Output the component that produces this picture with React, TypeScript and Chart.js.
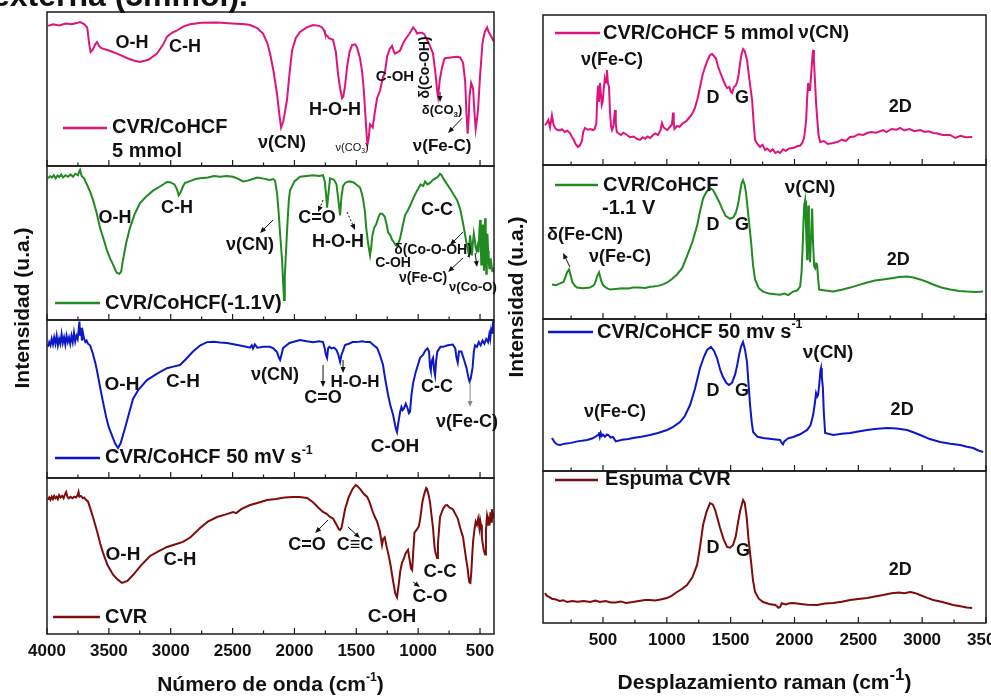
import React, { useEffect, useRef } from 'react';
import { Chart, registerables } from 'chart.js';

Chart.register(...registerables);

const FONT = "'Liberation Sans', Arial, Helvetica, sans-serif";
const INK = '#111111';

// ---------- FTIR spectra: [wavenumber (cm-1), transmittance in panel units 0-100] ----------
const ftirCoHCF5mmol: [number, number][] = [
  [3992, 91], [3950, 92], [3900, 91.3], [3850, 92.5], [3800, 92], [3760, 92.8], [3733, 93.5], [3700, 92.2],
  [3675, 90], [3660, 80], [3648, 74], [3630, 75.5], [3610, 79], [3596, 80.5], [3580, 78], [3560, 76.5],
  [3500, 75], [3434, 73], [3350, 70], [3300, 68.5], [3248, 67.5], [3180, 69], [3111, 73], [3060, 79],
  [3030, 84], [2990, 86.5], [2949, 88], [2900, 90.5], [2844, 92], [2750, 93], [2626, 93.2], [2500, 92.5],
  [2400, 92], [2359, 91.5], [2300, 89.5], [2254, 86], [2220, 80], [2197, 73], [2170, 62], [2141, 47],
  [2120, 32], [2108, 25], [2090, 29], [2075, 36], [2060, 43], [2040, 60], [2019, 75], [1990, 83],
  [1955, 87], [1900, 90], [1850, 91.5], [1800, 91], [1777, 90], [1760, 88], [1753, 86], [1720, 83],
  [1688, 82], [1665, 74], [1648, 60], [1630, 50], [1615, 44], [1605, 45], [1591, 52], [1575, 64],
  [1555, 74], [1534, 78.5], [1510, 79], [1494, 77], [1470, 70], [1454, 62], [1440, 50], [1429, 36],
  [1418, 22], [1410, 14], [1400, 18], [1389, 27], [1378, 26], [1368, 25], [1350, 35], [1332, 44],
  [1308, 49], [1292, 55], [1284, 58], [1270, 60], [1251, 71], [1230, 76], [1211, 78], [1195, 74],
  [1187, 73], [1165, 74], [1146, 75], [1125, 79], [1106, 82], [1070, 86], [1041, 90], [1020, 88],
  [1009, 86], [990, 86.5], [968, 86.5], [950, 85.5], [928, 82], [905, 78], [880, 73], [860, 60],
  [845, 48], [839, 45], [825, 56], [807, 64], [790, 69], [783, 70], [740, 70.5], [686, 71],
  [661, 70.5], [637, 67], [620, 55], [610, 35], [600, 21], [592, 30], [585, 45], [572, 54],
  [563, 52], [556, 50], [545, 35], [535, 24], [525, 30], [515, 38], [500, 58], [480, 80],
  [462, 87], [443, 90], [430, 87], [415, 85], [402, 83], [390, 81],
];

const ftirCoHCFm11V: [number, number][] = [
  [3992, 92], [3975, 93.5], [3960, 92.5], [3945, 94], [3930, 92], [3915, 93.8], [3900, 92.8], [3885, 94.5],
  [3870, 92.5], [3850, 94], [3830, 93], [3810, 94.5], [3790, 93], [3770, 95], [3750, 94], [3740, 96.5],
  [3733, 97.5], [3720, 93.5], [3700, 92], [3690, 90], [3677, 88], [3650, 83], [3628, 78], [3600, 70],
  [3572, 60], [3540, 52], [3515, 45], [3490, 40], [3466, 36], [3445, 32], [3434, 30.5], [3415, 30],
  [3400, 31.5], [3386, 39], [3360, 50], [3329, 60], [3290, 69], [3248, 76], [3200, 80], [3143, 84],
  [3080, 87], [3030, 89.6], [3006, 89.5], [2970, 88], [2950, 85], [2935, 81], [2920, 83], [2900, 87],
  [2884, 89], [2850, 90], [2800, 91.5], [2763, 92], [2700, 92.5], [2650, 93.5], [2600, 93], [2550, 93.5],
  [2496, 93], [2450, 91.5], [2416, 90], [2380, 90.5], [2350, 91.2], [2300, 92.5], [2250, 91.8], [2200, 91],
  [2170, 91.5], [2157, 90.5], [2140, 82], [2128, 70], [2115, 55], [2100, 39], [2090, 22], [2084, 13],
  [2078, 28], [2068, 45], [2055, 65], [2045, 78], [2036, 84], [2000, 90], [1955, 93], [1900, 93.5],
  [1850, 94], [1800, 93.5], [1769, 94], [1755, 90], [1745, 82], [1736, 73], [1728, 80], [1712, 92],
  [1695, 91.5], [1680, 91], [1660, 88], [1645, 78], [1631, 68], [1620, 80], [1607, 87], [1590, 89],
  [1560, 90], [1526, 89.5], [1500, 88], [1470, 86], [1455, 82], [1446, 79], [1430, 70], [1420, 60],
  [1405, 50], [1389, 42], [1380, 47], [1370, 55], [1355, 60], [1340, 62], [1320, 67], [1308, 69],
  [1290, 69], [1270, 67], [1255, 62], [1243, 57], [1225, 55], [1210, 52], [1200, 51], [1185, 49],
  [1171, 48], [1160, 50], [1146, 53], [1125, 61], [1106, 68], [1085, 71], [1066, 74], [1040, 79],
  [1009, 84], [980, 88], [960, 87], [944, 90], [925, 88], [904, 89], [880, 91], [860, 92],
  [840, 93], [823, 95], [810, 94], [790, 91], [765, 88], [740, 85], [710, 81], [686, 78],
  [660, 72], [640, 64], [620, 55], [605, 48], [595, 44], [590, 43], [585, 50], [580, 55],
  [572, 48], [565, 42], [558, 50], [550, 56], [543, 52], [535, 47], [528, 45], [520, 48],
  [512, 44], [505, 58], [499, 65], [494, 50], [490, 36], [485, 45], [480, 62], [476, 55],
  [472, 40], [468, 32], [464, 48], [459, 66], [454, 55], [450, 30], [445, 42], [440, 56],
  [435, 45], [430, 38], [424, 33], [418, 40], [413, 33], [408, 36], [402, 32], [396, 34], [390, 31],
];

const ftirCoHCF50mV: [number, number][] = [
  [3992, 83], [3982, 86], [3972, 84], [3962, 88], [3952, 84.5], [3942, 89], [3932, 85], [3922, 90],
  [3912, 84], [3902, 88], [3892, 85], [3882, 91], [3872, 85.5], [3862, 89], [3852, 84.5], [3842, 90],
  [3832, 86], [3822, 89], [3812, 85], [3802, 90], [3792, 86], [3782, 92], [3772, 86.5], [3762, 90],
  [3752, 88], [3744, 94], [3738, 99], [3732, 90], [3725, 95], [3718, 87], [3710, 92], [3700, 88],
  [3690, 86], [3680, 87], [3669, 85], [3652, 84], [3630, 79], [3610, 73], [3596, 68], [3570, 57],
  [3547, 48], [3520, 38], [3500, 32], [3475, 27], [3450, 22], [3426, 19], [3405, 22], [3390, 26],
  [3369, 31.6], [3340, 40], [3305, 50], [3260, 56], [3192, 62], [3110, 66], [3030, 69.5], [2980, 70.5],
  [2925, 71.5], [2880, 75], [2820, 80], [2760, 84], [2707, 86], [2650, 86.2], [2600, 85.8], [2545, 85.5],
  [2450, 84], [2400, 83.2], [2359, 82.5], [2345, 84], [2335, 82], [2320, 84.5], [2300, 82.5], [2250, 83],
  [2200, 83], [2170, 82], [2141, 79.7], [2125, 76], [2116, 74.7], [2105, 78], [2092, 82.3], [2040, 85.5],
  [1955, 87.3], [1900, 86.5], [1850, 86], [1800, 86.5], [1769, 86], [1755, 82], [1746, 78], [1736, 76],
  [1728, 82], [1718, 83], [1700, 82], [1680, 82.5], [1660, 81], [1645, 78], [1631, 73.5], [1620, 78],
  [1610, 80], [1591, 84.2], [1560, 85], [1530, 86], [1500, 86], [1450, 86.5], [1420, 86], [1389, 86],
  [1360, 84], [1332, 82.3], [1310, 78], [1284, 71.5], [1265, 62], [1243, 52.5], [1225, 46], [1210, 42],
  [1203, 40], [1190, 35], [1180, 31], [1171, 29], [1160, 35], [1146, 41.8], [1135, 45], [1125, 43],
  [1115, 44], [1100, 47], [1085, 44], [1075, 41], [1066, 41.8], [1055, 52], [1041, 60], [1020, 67],
  [1000, 72], [985, 76], [960, 78], [940, 81], [925, 82], [912, 80], [904, 70], [898, 68],
  [890, 74], [880, 76], [870, 68], [863, 65], [855, 74], [845, 80], [820, 83], [799, 83],
  [760, 84], [720, 84.5], [700, 82], [690, 76], [680, 73], [670, 80], [650, 80], [630, 75],
  [610, 70], [595, 64], [585, 61], [575, 63], [560, 70], [550, 80], [540, 84], [525, 83],
  [510, 86], [495, 84], [480, 87], [465, 85], [450, 88], [435, 86], [425, 91], [418, 88],
  [410, 94], [402, 92], [396, 98], [390, 99.5],
];

const ftirCVR: [number, number][] = [
  [3992, 86], [3982, 87.5], [3972, 86], [3962, 88], [3952, 86.5], [3942, 88.5], [3932, 87], [3922, 88],
  [3912, 86.5], [3902, 89], [3890, 87.5], [3878, 88.5], [3866, 87], [3855, 89.5], [3845, 91], [3835, 88],
  [3825, 87], [3810, 88], [3795, 87], [3780, 88], [3765, 87.5], [3752, 89], [3745, 91], [3738, 88],
  [3725, 88.5], [3710, 87], [3700, 87.5], [3685, 86], [3669, 85], [3652, 81], [3625, 74], [3596, 66],
  [3570, 58], [3547, 52], [3510, 44], [3466, 38], [3430, 35], [3394, 32.7], [3350, 34], [3305, 37.8],
  [3240, 44], [3167, 50], [3100, 53], [3030, 55.8], [2960, 57.5], [2901, 59], [2840, 62], [2763, 68],
  [2700, 72], [2626, 75], [2560, 76.5], [2496, 78.2], [2470, 77.5], [2430, 80], [2359, 82.7], [2300, 84],
  [2221, 85.9], [2150, 86.5], [2080, 87.5], [2011, 87.8], [1960, 87.8], [1898, 87.2], [1850, 84.5], [1800, 80.5],
  [1769, 78.2], [1740, 77], [1712, 75], [1688, 74], [1660, 70], [1640, 67], [1631, 66.7], [1620, 68],
  [1605, 74], [1591, 80], [1560, 88], [1530, 93], [1505, 95.5], [1494, 95], [1470, 93], [1450, 91],
  [1429, 89], [1413, 88], [1395, 85], [1370, 79], [1350, 75], [1332, 72], [1310, 66], [1292, 57],
  [1282, 61], [1270, 62], [1255, 56], [1243, 52], [1225, 45], [1205, 35], [1185, 26], [1171, 23.5],
  [1160, 30], [1145, 40], [1130, 46], [1122, 47], [1100, 52], [1082, 54], [1070, 48], [1058, 42],
  [1049, 41], [1040, 52], [1030, 65], [1010, 67], [995, 69], [985, 73], [965, 85], [950, 90],
  [935, 93.6], [928, 93], [915, 89], [905, 85], [892, 76], [880, 68], [868, 56], [860, 52],
  [852, 50], [847, 48.7], [840, 58], [830, 68], [823, 75], [800, 80], [780, 82.5], [766, 82.7],
  [745, 81], [720, 80], [700, 77], [680, 74], [660, 68], [645, 64], [637, 62], [625, 55],
  [612, 48], [600, 42], [592, 36], [585, 33], [578, 32.7], [570, 40], [562, 52], [555, 60],
  [545, 67], [535, 72], [525, 70], [515, 74], [505, 68], [499, 73], [492, 70], [485, 62],
  [478, 58], [470, 54], [459, 51], [452, 66], [447, 72], [443, 76], [438, 74], [433, 70],
  [428, 75], [422, 70], [416, 78], [410, 72], [404, 80], [398, 74], [392, 78],
];

// ---------- Raman spectra: [Raman shift (cm-1), intensity in panel units 0-100] ----------
const ramanCoHCF5mmol: [number, number][] = [
  [45, 26.7], [60, 28], [72, 30], [85, 25], [100, 33], [112, 27], [124, 24.7], [140, 23.5],
  [163, 23], [180, 23.8], [200, 22], [220, 22.8], [241, 21.3], [255, 19], [270, 17], [285, 14],
  [304, 12], [318, 13], [335, 16], [345, 22], [359, 24.7], [380, 23.5], [400, 24], [422, 23.3],
  [435, 24], [448, 28], [455, 45], [462, 53], [468, 42], [476, 54.7], [483, 48], [490, 40],
  [497, 42], [505, 50], [515, 58], [524, 55], [531, 63.3], [538, 55], [547, 52], [555, 35],
  [563, 26], [571, 23.3], [582, 26], [589, 33], [594, 36.7], [600, 28], [608, 22], [618, 21.3],
  [640, 20], [660, 21.5], [688, 20], [710, 18.5], [740, 19], [765, 17.5], [790, 16.7], [810, 18.5],
  [830, 17.5], [850, 19], [870, 18], [892, 20], [910, 21], [930, 20], [950, 23], [962, 28],
  [975, 25], [990, 24], [1002, 23.3], [1020, 25], [1040, 27], [1049, 35], [1054, 28], [1060, 24],
  [1080, 26], [1100, 25.5], [1127, 28], [1150, 29], [1170, 31], [1190, 33], [1205, 35.3], [1220, 38],
  [1240, 44], [1260, 52], [1280, 60], [1299, 65.3], [1320, 70], [1338, 73.3], [1355, 74], [1370, 72.5],
  [1385, 71], [1400, 66], [1417, 62], [1440, 57], [1460, 53], [1472, 51.3], [1490, 52], [1500, 49],
  [1511, 48], [1525, 52], [1540, 53], [1550, 55.3], [1562, 60], [1574, 68], [1585, 74], [1597, 77.3],
  [1610, 76], [1628, 70], [1645, 58], [1668, 43.3], [1680, 28], [1691, 16.7], [1710, 14], [1730, 12],
  [1750, 13.5], [1770, 10], [1785, 11], [1810, 9], [1830, 10.5], [1850, 8], [1870, 9], [1887, 8],
  [1910, 10.5], [1930, 9.5], [1960, 11], [1989, 11.3], [2020, 12.5], [2045, 13], [2060, 14.7], [2075, 18],
  [2085, 25], [2091, 30], [2100, 46], [2107, 54.7], [2114, 50], [2122, 50], [2130, 60], [2140, 72],
  [2146, 76.7], [2152, 70], [2161, 55], [2170, 40], [2177, 32], [2188, 20], [2201, 15.3], [2230, 16],
  [2260, 14], [2303, 14.7], [2340, 15.5], [2370, 17], [2400, 16], [2436, 18.7], [2470, 19], [2500, 20.5],
  [2540, 20], [2569, 21.3], [2600, 22], [2640, 21.5], [2694, 23.3], [2720, 22], [2760, 24], [2800, 23.5],
  [2828, 24.7], [2860, 23], [2900, 24], [2940, 22.5], [2984, 23.3], [3020, 22], [3050, 22.5], [3086, 21.3],
  [3120, 21], [3160, 20], [3219, 20], [3260, 18], [3300, 19.5], [3340, 18.5], [3392, 18.7],
];

const ramanCoHCFm11V: [number, number][] = [
  [100, 22.4], [130, 22], [160, 23], [190, 24], [205, 27], [218, 30.3], [234, 32.2], [248, 28],
  [260, 24], [280, 21.5], [296, 20.4], [340, 20], [398, 20.4], [430, 22], [445, 25], [453, 27.6],
  [469, 30.3], [485, 25], [500, 22], [530, 20], [555, 19.1], [600, 19.5], [650, 20], [700, 19.8],
  [735, 20.4], [780, 20.5], [830, 20.2], [870, 21], [892, 21.1], [930, 21.5], [970, 22.5], [1002, 23.7],
  [1040, 26], [1080, 28.9], [1120, 33], [1158, 40.8], [1200, 50], [1237, 60.5], [1260, 70], [1284, 78.3],
  [1310, 82.5], [1338, 84.9], [1360, 84], [1380, 81], [1410, 76], [1433, 71.7], [1460, 67], [1495, 65.1],
  [1520, 66], [1540, 69], [1550, 71.7], [1563, 77], [1574, 82.9], [1585, 88], [1597, 90.1], [1610, 87],
  [1620, 82], [1640, 66], [1660, 50], [1675, 35], [1691, 25.7], [1720, 20], [1754, 17.8], [1800, 16.5],
  [1850, 16], [1887, 15.8], [1920, 16.5], [1950, 15.5], [1989, 17.8], [2020, 18.5], [2044, 21.1], [2055, 30],
  [2063, 45], [2070, 62], [2076, 74], [2083, 77], [2090, 60], [2099, 38.8], [2103, 55], [2107, 73.7],
  [2113, 55], [2122, 36.8], [2130, 55], [2138, 71.7], [2145, 50], [2154, 34.2], [2162, 33], [2170, 36],
  [2177, 35.5], [2185, 26], [2193, 19.1], [2240, 18.5], [2303, 17.8], [2370, 19], [2436, 20.4], [2500, 22],
  [2569, 23.7], [2630, 25], [2694, 25.7], [2760, 26.5], [2820, 27.2], [2882, 27.6], [2930, 27], [2984, 25.7],
  [3040, 24], [3086, 22.4], [3150, 20.5], [3219, 19.1], [3290, 18.2], [3353, 17.8], [3420, 17.5], [3478, 17.8],
];

const ramanCoHCF50mV: [number, number][] = [
  [100, 21.7], [120, 19], [140, 17.5], [163, 17.1], [200, 18], [250, 18.5], [300, 19.5], [375, 20.4],
  [420, 21.5], [461, 23.7], [468, 25.5], [475, 22.5], [482, 25], [490, 23], [500, 24], [515, 22.5],
  [530, 24], [545, 23.5], [560, 22], [578, 22.4], [600, 19.5], [650, 20.5], [700, 21], [735, 21.7],
  [800, 22.5], [868, 23.7], [930, 25], [1002, 27], [1050, 29], [1103, 32.2], [1140, 36], [1182, 43.4],
  [1220, 54], [1260, 67.8], [1290, 75], [1315, 79.6], [1346, 81.6], [1370, 79], [1393, 74.3], [1420, 66],
  [1440, 61.8], [1465, 58], [1487, 56.6], [1510, 58], [1534, 63.2], [1552, 70], [1566, 76.3], [1582, 82],
  [1597, 84.9], [1612, 80], [1628, 71.7], [1640, 57], [1652, 43.4], [1665, 32], [1676, 25.7], [1710, 22.5],
  [1754, 21.7], [1820, 21], [1887, 20.4], [1900, 18.5], [1910, 17.5], [1920, 19.5], [1950, 21.5], [1989, 22.4],
  [2040, 24], [2099, 27], [2125, 30], [2146, 36.8], [2160, 45], [2169, 51.3], [2178, 49], [2185, 50],
  [2195, 58], [2203, 66], [2208, 67.8], [2214, 62], [2222, 55], [2230, 38], [2240, 25], [2303, 23.7],
  [2370, 24.5], [2436, 25], [2500, 26], [2569, 27], [2650, 27.8], [2726, 28.3], [2800, 28], [2882, 27],
  [2930, 25.5], [2984, 23.7], [3060, 21], [3141, 19.1], [3220, 18], [3298, 17.1], [3350, 16], [3400, 15.1],
  [3440, 13.5], [3478, 12.5],
];

const ramanEspumaCVR: [number, number][] = [
  [45, 19.7], [60, 18], [80, 17], [100, 16], [130, 15.5], [160, 14.5], [190, 15], [218, 13.8],
  [260, 14.5], [300, 14], [350, 14.5], [400, 13.8], [440, 14.8], [476, 13.8], [520, 14.5], [560, 13.5],
  [600, 13.5], [640, 14.2], [680, 13.2], [735, 13.8], [780, 14.5], [830, 15.2], [868, 15.1], [910, 14.8],
  [950, 15.5], [1002, 16.4], [1040, 18], [1080, 20.4], [1120, 22.5], [1158, 25], [1200, 30], [1237, 38.2],
  [1260, 50], [1284, 64.5], [1310, 73], [1338, 78.9], [1360, 78], [1380, 74], [1417, 62.5], [1445, 55],
  [1472, 50], [1495, 49.5], [1519, 51.3], [1540, 57], [1558, 66.4], [1575, 74], [1597, 80.9], [1610, 79],
  [1625, 70], [1640, 55], [1660, 40.1], [1675, 28], [1691, 20.4], [1720, 16], [1754, 13.8], [1800, 12.5],
  [1850, 11.8], [1875, 10], [1887, 10.5], [1900, 13], [1930, 12.2], [1960, 13], [1989, 13.2], [2050, 12.5],
  [2100, 12], [2177, 11.8], [2240, 12.8], [2303, 13.2], [2370, 14], [2436, 15.1], [2500, 15.8], [2569, 16.4],
  [2630, 17.5], [2694, 18.4], [2760, 19.5], [2820, 20], [2860, 19.6], [2906, 20.4], [2940, 19.8], [2984, 18.4],
  [3040, 16.5], [3086, 15.1], [3150, 14], [3243, 11.8], [3300, 11], [3350, 10.2], [3392, 9.9],
];

// ---------- Series colours ----------
const PINK = '#E0137C';
const GREEN = '#218A21';
const BLUE = '#0C18C8';
const MAROON = '#7E0C0C';

type Note = { t: string; x: number; y: number; size: number; align?: string; rot?: boolean; weight?: string };
type Pointer = { x1: number; y1: number; x2: number; y2: number; dash?: boolean; color?: string };
type Sub = {
  axis: string; color: string; data: [number, number][]; h: number; order: number;
  key: [number, number, number]; notes: Note[]; pointers: Pointer[];
};
type Panel = {
  width: number; left: number; xMin: number; xMax: number; reverse: boolean;
  pad: { left: number; right: number; top: number }; axisH: number; tickPad: number;
  subs: Sub[];
  xTitle: { t: string; size: number; supScale: number; dy: number };
  yTitle: { t: string; size: number; x: number; y: number };
  cutTitle?: { t: string; x: number; y: number; size: number };
};

const ftirPanel: Panel = {
  width: 505, left: 0, xMin: 387, xMax: 4000, reverse: true,
  pad: { left: 47, right: 11, top: 12 }, axisH: 64, tickPad: 7,
  xTitle: { t: 'Número de onda (cm^{-1})', size: 21, supScale: 0.58, dy: 51 },
  yTitle: { t: 'Intensidad (u.a.)', size: 21, x: 23, y: 308 },
  cutTitle: { t: 'externa (5mmol).', x: 248, y: 6, size: 32 },
  subs: [
    {
      axis: 'y1', color: PINK, data: ftirCoHCF5mmol, h: 154, order: 4, key: [3871, 3515, 24.7],
      notes: [
        { t: 'O-H', x: 3313, y: 80, size: 18 },
        { t: 'C-H', x: 2884, y: 77, size: 18 },
        { t: 'ν(CN)', x: 2100, y: 15, size: 18 },
        { t: 'H-O-H', x: 1672, y: 36.5, size: 18 },
        { t: 'ν(CO_{3})', x: 1534, y: 12, size: 11, weight: 'normal' },
        { t: 'C-OH', x: 1187, y: 58, size: 15 },
        { t: 'δ(Co-OH)', x: 944, y: 64, size: 14, rot: true },
        { t: 'δ(CO_{3})', x: 807, y: 36, size: 13 },
        { t: 'ν(Fe-C)', x: 807, y: 12.5, size: 17 },
        { t: 'CVR/CoHCF', x: 3475, y: 24.7, size: 20, align: 'left' },
        { t: '5 mmol', x: 3475, y: 9.7, size: 20, align: 'left' },
      ],
      pointers: [
        { x1: 823, y1: 48, x2: 823, y2: 41.5 },
        { x1: 645, y1: 31, x2: 758, y2: 21.5 },
      ],
    },
    {
      axis: 'y2', color: GREEN, data: ftirCoHCFm11V, h: 154, order: 3, key: [3935, 3572, 11],
      notes: [
        { t: 'O-H', x: 3450, y: 66, size: 18 },
        { t: 'C-H', x: 2949, y: 72.7, size: 18 },
        { t: 'ν(CN)', x: 2359, y: 48.7, size: 18 },
        { t: 'C=O', x: 1817, y: 66, size: 18 },
        { t: 'H-O-H', x: 1648, y: 50.6, size: 18 },
        { t: 'C-C', x: 847, y: 71.4, size: 18 },
        { t: 'C-OH', x: 1203, y: 37, size: 14 },
        { t: 'δ(Co-O-OH)', x: 880, y: 45.5, size: 14 },
        { t: 'ν(Fe-C)', x: 960, y: 27.3, size: 14 },
        { t: 'ν(Co-O)', x: 750, y: 21.4, size: 13, align: 'left' },
        { t: 'CVR/CoHCF(-1.1V)', x: 3531, y: 11, size: 20, align: 'left' },
      ],
      pointers: [
        { x1: 2173, y1: 64.9, x2: 2278, y2: 56.5 },
        { x1: 1769, y1: 77.9, x2: 1809, y2: 70.1, dash: true },
        { x1: 1575, y1: 70.1, x2: 1510, y2: 58.4, dash: true },
        { x1: 637, y1: 57.1, x2: 742, y2: 48.7 },
        { x1: 637, y1: 40.3, x2: 758, y2: 31.2 },
        { x1: 540, y1: 43.5, x2: 524, y2: 34.4 },
      ],
    },
    {
      axis: 'y3', color: BLUE, data: ftirCoHCF50mV, h: 158, order: 2, key: [3935, 3572, 12.7],
      notes: [
        { t: 'O-H', x: 3394, y: 58.9, size: 19 },
        { t: 'C-H', x: 2901, y: 60.8, size: 19 },
        { t: 'ν(CN)', x: 2157, y: 65.2, size: 18 },
        { t: 'C=O', x: 1769, y: 50.6, size: 18 },
        { t: 'H-O-H', x: 1510, y: 60.8, size: 17 },
        { t: 'C-OH', x: 1187, y: 19.6, size: 19 },
        { t: 'C-C', x: 847, y: 57.6, size: 18 },
        { t: 'ν(Fe-C)', x: 605, y: 35.4, size: 18 },
        { t: 'CVR/CoHCF 50 mV s^{-1}', x: 3531, y: 12.7, size: 20, align: 'left' },
      ],
      pointers: [
        { x1: 1769, y1: 71.5, x2: 1769, y2: 57.6 },
        { x1: 1607, y1: 74.7, x2: 1607, y2: 66.5 },
        { x1: 580, y1: 60.8, x2: 580, y2: 44.9, color: '#8a8a8a' },
      ],
    },
    {
      axis: 'y4', color: MAROON, data: ftirCVR, h: 156, order: 1, key: [3951, 3572, 10.9],
      notes: [
        { t: 'O-H', x: 3386, y: 50.6, size: 19 },
        { t: 'C-H', x: 2925, y: 47.4, size: 18.5 },
        { t: 'C=O', x: 1898, y: 57.1, size: 18 },
        { t: 'C≡C', x: 1510, y: 57.1, size: 18 },
        { t: 'C-OH', x: 1211, y: 10.9, size: 19 },
        { t: 'C-C', x: 823, y: 39.7, size: 18.5 },
        { t: 'C-O', x: 904, y: 23.7, size: 19 },
        { t: 'CVR', x: 3531, y: 10.9, size: 20, align: 'left' },
      ],
      pointers: [
        { x1: 1728, y1: 73.1, x2: 1833, y2: 64.7 },
        { x1: 1567, y1: 68.6, x2: 1470, y2: 61.5 },
        { x1: 1041, y1: 33.3, x2: 985, y2: 30.1 },
      ],
    },
  ],
};

const ramanPanel: Panel = {
  width: 525, left: 500, xMin: 30, xMax: 3500, reverse: false,
  pad: { left: 43, right: 39, top: 15 }, axisH: 75, tickPad: 7,
  xTitle: { t: 'Desplazamiento raman (cm^{-1})', size: 21, supScale: 0.8, dy: 60 },
  yTitle: { t: 'Intensidad (u.a.)', size: 21, x: 17, y: 297 },
  subs: [
    {
      axis: 'y1', color: PINK, data: ramanCoHCF5mmol, h: 150, order: 4, key: [124, 476, 88],
      notes: [
        { t: 'CVR/CoHCF 5 mmol', x: 500, y: 88, size: 20, align: 'left' },
        { t: 'ν(CN)', x: 2030, y: 88, size: 19, align: 'left' },
        { t: 'ν(Fe-C)', x: 571, y: 70, size: 18 },
        { t: 'D', x: 1362, y: 44.7, size: 18 },
        { t: 'G', x: 1589, y: 44.7, size: 18 },
        { t: '2D', x: 2828, y: 38.7, size: 18 },
      ],
      pointers: [],
    },
    {
      axis: 'y2', color: GREEN, data: ramanCoHCFm11V, h: 154, order: 3, key: [124, 461, 87],
      notes: [
        { t: 'CVR/CoHCF', x: 500, y: 87, size: 20, align: 'left' },
        { t: '-1.1 V', x: 492, y: 72, size: 20, align: 'left' },
        { t: 'ν(CN)', x: 2122, y: 85, size: 19 },
        { t: 'δ(Fe-CN)', x: 359, y: 54.5, size: 18 },
        { t: 'ν(Fe-C)', x: 633, y: 40.3, size: 18 },
        { t: 'D', x: 1362, y: 61, size: 18 },
        { t: 'G', x: 1589, y: 61, size: 18 },
        { t: '2D', x: 2812, y: 38.3, size: 18 },
      ],
      pointers: [{ x1: 241, y1: 33.8, x2: 187, y2: 42.9 }],
    },
    {
      axis: 'y3', color: BLUE, data: ramanCoHCF50mV, h: 152, order: 2, key: [69, 422, 91.4],
      notes: [
        { t: 'CVR/CoHCF 50 mv s^{-1}', x: 453, y: 91.4, size: 20, align: 'left' },
        { t: 'ν(CN)', x: 2263, y: 77.6, size: 19 },
        { t: 'ν(Fe-C)', x: 594, y: 38.8, size: 18 },
        { t: 'D', x: 1362, y: 52.6, size: 18 },
        { t: 'G', x: 1589, y: 52.6, size: 18 },
        { t: '2D', x: 2843, y: 40.1, size: 18 },
      ],
      pointers: [],
    },
    {
      axis: 'y4', color: MAROON, data: ramanEspumaCVR, h: 152, order: 1, key: [124, 461, 94.1],
      notes: [
        { t: 'Espuma CVR', x: 516, y: 94.1, size: 20, align: 'left' },
        { t: 'D', x: 1362, y: 49.3, size: 18 },
        { t: 'G', x: 1597, y: 47.4, size: 18 },
        { t: '2D', x: 2828, y: 34.9, size: 18 },
      ],
      pointers: [],
    },
  ],
};

// Splits "cm^{-1}" / "CO_{3}" style markup into plain, superscript and subscript runs.
function parseRich(t: string) {
  const segs: { s: string; k: string }[] = [];
  const re = /([_^])\{([^}]*)\}/g;
  let last = 0;
  let m: RegExpExecArray | null;
  while ((m = re.exec(t))) {
    if (m.index > last) segs.push({ s: t.slice(last, m.index), k: 'n' });
    segs.push({ s: m[2], k: m[1] === '_' ? 'sub' : 'sup' });
    last = re.lastIndex;
  }
  if (last < t.length) segs.push({ s: t.slice(last), k: 'n' });
  return segs;
}

function drawRich(ctx: CanvasRenderingContext2D, t: string, x: number, y: number, size: number,
  o: { align?: string; weight?: string; rot?: boolean; supScale?: number; color?: string }) {
  const segs = parseRich(t);
  const weight = o.weight || 'bold';
  const ss = o.supScale || 0.62;
  const font = (sz: number) => `${weight} ${sz}px ${FONT}`;
  let total = 0;
  const widths = segs.map((sg) => {
    ctx.font = font(sg.k === 'n' ? size : size * ss);
    const w = ctx.measureText(sg.s).width;
    total += w;
    return w;
  });
  ctx.save();
  ctx.translate(x, y);
  if (o.rot) ctx.rotate(-Math.PI / 2);
  ctx.fillStyle = o.color || INK;
  ctx.textBaseline = 'middle';
  ctx.textAlign = 'left';
  let cx = o.align === 'left' ? 0 : o.align === 'right' ? -total : -total / 2;
  segs.forEach((sg, i) => {
    const sz = sg.k === 'n' ? size : size * ss;
    ctx.font = font(sz);
    const dy = sg.k === 'sub' ? size * 0.3 : sg.k === 'sup' ? -size * 0.36 : 0;
    ctx.fillText(sg.s, cx, dy);
    cx += widths[i];
  });
  ctx.restore();
}

function drawPointer(ctx: CanvasRenderingContext2D, x1: number, y1: number, x2: number, y2: number, color: string, dash: boolean) {
  const a = Math.atan2(y2 - y1, x2 - x1);
  const head = 6;
  const c = Math.cos(a);
  const s = Math.sin(a);
  ctx.save();
  ctx.strokeStyle = color;
  ctx.fillStyle = color;
  ctx.lineWidth = 1;
  if (dash) ctx.setLineDash([2, 2]);
  ctx.beginPath();
  ctx.moveTo(x1, y1);
  ctx.lineTo(x2 - c * head * 0.8, y2 - s * head * 0.8);
  ctx.stroke();
  ctx.setLineDash([]);
  ctx.beginPath();
  ctx.moveTo(x2, y2);
  ctx.lineTo(x2 - head * c + head * 0.42 * s, y2 - head * s - head * 0.42 * c);
  ctx.lineTo(x2 - head * c - head * 0.42 * s, y2 - head * s + head * 0.42 * c);
  ctx.closePath();
  ctx.fill();
  ctx.restore();
}

// Frames, inward ticks, keys, band labels and axis titles for one stacked panel.
function panelDecor(p: Panel) {
  return {
    id: 'panelDecor',
    afterDatasetsDraw(chart: any) {
      const ctx: CanvasRenderingContext2D = chart.ctx;
      const ca = chart.chartArea;
      const xs = chart.scales.x;
      ctx.save();
      p.subs.forEach((sp) => {
        const ys = chart.scales[sp.axis];
        const X = (v: number) => xs.getPixelForValue(v);
        const Y = (v: number) => ys.getPixelForValue(v);
        ctx.setLineDash([]);
        ctx.strokeStyle = '#1b1b1b';
        ctx.lineWidth = 1.5;
        ctx.strokeRect(ca.left, ys.top, ca.right - ca.left, ys.bottom - ys.top);
        ctx.lineWidth = 1.2;
        xs.ticks.forEach((tk: any) => {
          const px = X(tk.value);
          const len = tk.value % 500 === 0 ? 6 : 3.5;
          ctx.beginPath();
          ctx.moveTo(px, ys.bottom);
          ctx.lineTo(px, ys.bottom - len);
          ctx.stroke();
        });
        ctx.strokeStyle = sp.color;
        ctx.lineWidth = 2.6;
        ctx.beginPath();
        ctx.moveTo(X(sp.key[0]), Y(sp.key[2]));
        ctx.lineTo(X(sp.key[1]), Y(sp.key[2]));
        ctx.stroke();
        sp.pointers.forEach((a) => drawPointer(ctx, X(a.x1), Y(a.y1), X(a.x2), Y(a.y2), a.color || INK, !!a.dash));
        sp.notes.forEach((n) => drawRich(ctx, n.t, X(n.x), Y(n.y), n.size, n));
      });
      drawRich(ctx, p.xTitle.t, (ca.left + ca.right) / 2, ca.bottom + p.xTitle.dy, p.xTitle.size, { supScale: p.xTitle.supScale });
      drawRich(ctx, p.yTitle.t, p.yTitle.x, p.yTitle.y, p.yTitle.size, { rot: true });
      if (p.cutTitle) {
        ctx.font = `bold ${p.cutTitle.size}px ${FONT}`;
        ctx.fillStyle = INK;
        ctx.textAlign = 'right';
        ctx.textBaseline = 'alphabetic';
        ctx.fillText(p.cutTitle.t, p.cutTitle.x, p.cutTitle.y);
      }
      ctx.restore();
    },
  };
}

function buildChart(canvas: HTMLCanvasElement, p: Panel) {
  const scales: any = {
    x: {
      type: 'linear',
      min: p.xMin,
      max: p.xMax,
      reverse: p.reverse,
      grid: { display: false, drawTicks: false },
      border: { display: false },
      afterBuildTicks: (s: any) => {
        const out: { value: number }[] = [];
        for (let v = Math.ceil(s.min / 250) * 250; v <= s.max; v += 250) out.push({ value: v });
        s.ticks = out;
      },
      afterFit: (s: any) => {
        s.height = p.axisH;
      },
      ticks: {
        autoSkip: false,
        maxRotation: 0,
        padding: p.tickPad,
        color: INK,
        font: { family: FONT, size: 17, weight: 'bold' },
        callback: (v: any) => (Number(v) % 500 === 0 ? String(v) : ''),
      },
    },
  };
  p.subs.forEach((sp) => {
    scales[sp.axis] = {
      type: 'linear',
      display: false,
      position: 'left',
      stack: 'panel',
      stackWeight: sp.h,
      weight: sp.order,
      min: 0,
      max: 100,
    };
  });
  return new Chart(canvas, {
    type: 'line',
    data: {
      datasets: p.subs.map((sp) => ({
        data: sp.data.map(([x, y]) => ({ x, y })),
        yAxisID: sp.axis,
        borderColor: sp.color,
        borderWidth: 2,
        pointRadius: 0,
        tension: 0,
        fill: false,
      })),
    },
    options: {
      responsive: false,
      animation: false,
      devicePixelRatio: 1,
      layout: { padding: { left: p.pad.left, right: p.pad.right, top: p.pad.top, bottom: 0 } },
      plugins: { legend: { display: false }, tooltip: { enabled: false } },
      scales,
    },
    plugins: [panelDecor(p)],
  } as any);
}

function SpectrumPanel({ panel }: { panel: Panel }) {
  const ref = useRef<HTMLCanvasElement | null>(null);
  useEffect(() => {
    if (!ref.current) return;
    const chart = buildChart(ref.current, panel);
    return () => chart.destroy();
  }, [panel]);
  return (
    <canvas
      ref={ref}
      width={panel.width}
      height={698}
      style={{ position: 'absolute', left: panel.left, top: 0, width: panel.width, height: 698 }}
    />
  );
}

export default function App() {
  return (
    <div style={{ position: 'absolute', left: 0, top: 0, width: 991, height: 698, overflow: 'hidden', background: '#ffffff' }}>
      <SpectrumPanel panel={ftirPanel} />
      <SpectrumPanel panel={ramanPanel} />
    </div>
  );
}
